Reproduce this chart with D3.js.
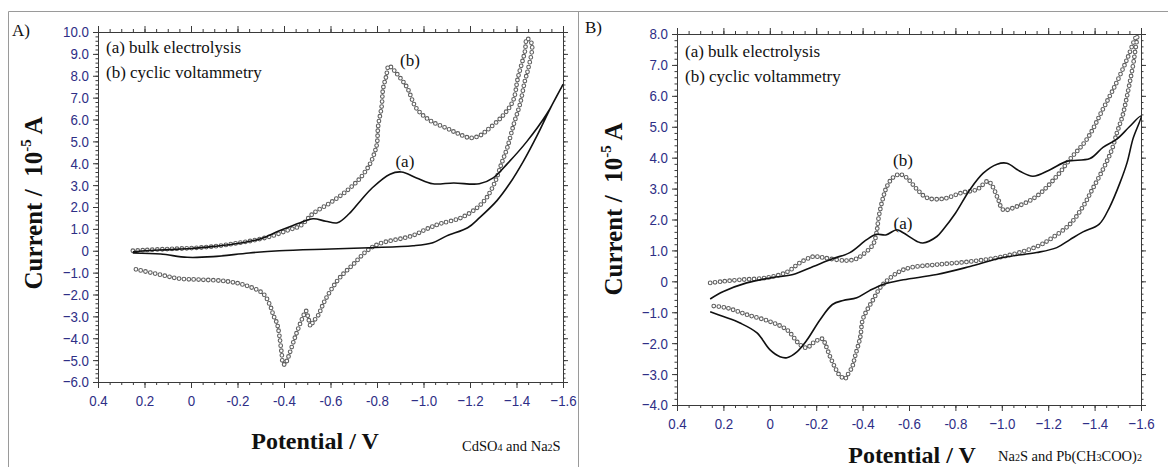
<!DOCTYPE html>
<html>
<head>
<meta charset="utf-8">
<script src="https://cdn.jsdelivr.net/npm/d3@7"></script>
<style>
  body { margin: 0; background: #fff; }
  svg { display: block; }
  .tick text { font-family: 'Liberation Sans Narrow', 'Arial Narrow', 'Liberation Sans', sans-serif; font-size: 15.5px; fill: #2e2e86; }
  .axis path, .axis line { stroke: #3a3a3a; }
  .serif { font-family: 'Liberation Serif', 'Times New Roman', serif; fill: #111; }
</style>
</head>
<body>
<svg width="1168" height="467"></svg>
<script>
// tick labels
const xTicks = [0.4, 0.2, 0, -0.2, -0.4, -0.6, -0.8, -1.0, -1.2, -1.4, -1.6];
const yTicksA = [10, 9, 8, 7, 6, 5, 4, 3, 2, 1, 0, -1, -2, -3, -4, -5, -6];
const yTicksB = [8, 7, 6, 5, 4, 3, 2, 1, 0, -1, -2, -3, -4];

// panel A, (b) cyclic voltammetry
const cvA_pot = [0.25, 0.2, 0.1, 0.0, -0.1, -0.2, -0.28, -0.35, -0.42, -0.47, -0.525, -0.6, -0.67, -0.73, -0.77, -0.79, -0.8, -0.805, -0.82, -0.826, -0.84, -0.85, -0.86, -0.877, -0.9, -0.93, -0.97, -1.03, -1.1, -1.15, -1.2, -1.24, -1.27, -1.34, -1.385, -1.406, -1.436, -1.445, -1.466,
  -1.45, -1.436, -1.415, -1.39, -1.36, -1.335, -1.31, -1.27, -1.23, -1.16, -1.07, -1.015, -0.95, -0.81, -0.757, -0.7, -0.64, -0.6, -0.57, -0.546, -0.525, -0.515, -0.505, -0.495, -0.48, -0.447, -0.417, -0.404, -0.396, -0.39, -0.38, -0.37, -0.355, -0.34, -0.31, -0.24, -0.155, -0.04, 0.047, 0.13, 0.25];
const cvA_cur = [0.0, 0.03, 0.08, 0.12, 0.2, 0.35, 0.5, 0.68, 0.95, 1.14, 1.7, 2.2, 2.74, 3.35, 3.97, 4.5, 4.9, 5.7, 6.6, 7.4, 7.99, 8.45, 8.4, 8.2, 7.9, 7.45, 6.5, 5.94, 5.6, 5.35, 5.16, 5.25, 5.48, 6.16, 6.85, 7.9, 9.1, 9.7, 9.45,
  8.3, 7.76, 6.7, 5.85, 4.7, 3.97, 3.2, 2.4, 1.96, 1.5, 1.23, 1.0, 0.68, 0.32, 0.0, -0.6, -1.23, -1.83, -2.4, -2.97, -3.25, -3.45, -3.1, -2.75, -3.06, -3.97, -4.9, -5.2, -5.16, -4.7, -3.88, -3.33, -2.97, -2.5, -1.96, -1.6, -1.4, -1.32, -1.28, -1.1, -0.82];

// panel A, (a) bulk electrolysis
const beA_pot = [0.25, 0.2, 0.1, 0.0, -0.1, -0.2, -0.3, -0.38, -0.47, -0.525, -0.58, -0.63, -0.68, -0.73, -0.78, -0.856, -0.905, -0.97, -1.04, -1.13, -1.24, -1.3, -1.36, -1.445, -1.53, -1.6,
  -1.545, -1.49, -1.43, -1.37, -1.315, -1.24, -1.19, -1.1, -1.04, -0.955, -0.77, -0.6, -0.38, -0.25, -0.095, 0.017, 0.13, 0.25];
const beA_cur = [-0.05, 0.0, 0.05, 0.1, 0.2, 0.33, 0.55, 0.91, 1.28, 1.46, 1.35, 1.28, 1.69, 2.3, 2.88, 3.5, 3.6, 3.33, 3.06, 3.1, 3.06, 3.33, 3.97, 5.0, 6.25, 7.6,
  6.5, 5.3, 4.1, 3.06, 2.28, 1.5, 1.05, 0.68, 0.37, 0.23, 0.14, 0.08, 0.0, -0.1, -0.27, -0.3, -0.15, -0.1];

// panel B, (b) cyclic voltammetry
const cvB_pot = [0.257, 0.2, 0.128, 0.01, -0.074, -0.13, -0.187, -0.22, -0.26, -0.33, -0.37, -0.4, -0.445, -0.46, -0.47, -0.49, -0.505, -0.53, -0.56, -0.59, -0.635, -0.678, -0.747, -0.83, -0.893, -0.94, -0.96, -0.985, -1.005, -1.065, -1.15, -1.237, -1.294, -1.367, -1.436, -1.496, -1.54, -1.574, -1.583,
  -1.574, -1.565, -1.54, -1.52, -1.496, -1.475, -1.436, -1.39, -1.35, -1.294, -1.22, -1.15, -1.005, -0.863, -0.72, -0.604, -0.55, -0.488, -0.47, -0.445, -0.42, -0.4, -0.39, -0.367, -0.355, -0.33, -0.325, -0.3, -0.28, -0.26, -0.24, -0.227, -0.187, -0.16, -0.13, -0.074, 0.0, 0.098, 0.185, 0.257];
const cvB_cur = [-0.05, 0.0, 0.05, 0.12, 0.3, 0.6, 0.8, 0.78, 0.73, 0.67, 0.72, 0.86, 1.19, 1.57, 2.1, 2.75, 3.07, 3.35, 3.46, 3.35, 2.97, 2.7, 2.67, 2.87, 2.97, 3.24, 3.07, 2.64, 2.32, 2.42, 2.75, 3.4, 3.95, 4.6, 5.57, 6.45, 7.19, 7.84, 7.95,
  7.4, 6.96, 6.0, 5.34, 4.8, 4.27, 3.62, 2.97, 2.42, 1.85, 1.42, 1.12, 0.8, 0.64, 0.54, 0.44, 0.28, -0.1, -0.27, -0.6, -0.92, -1.25, -1.8, -2.44, -2.77, -3.09, -3.16, -3.03, -2.77, -2.44, -2.05, -1.86, -1.99, -2.15, -2.05, -1.57, -1.3, -1.08, -0.86, -0.79];

// panel B, (a) bulk electrolysis
const beB_pot = [0.257, 0.2, 0.1, -0.01, -0.1, -0.187, -0.27, -0.345, -0.418, -0.46, -0.5, -0.548, -0.575, -0.635, -0.66, -0.72, -0.75, -0.8, -0.863, -0.92, -0.98, -1.022, -1.078, -1.134, -1.21, -1.28, -1.38, -1.436, -1.496, -1.55, -1.6,
  -1.565, -1.54, -1.51, -1.466, -1.42, -1.35, -1.294, -1.237, -1.15, -1.005, -0.863, -0.72, -0.575, -0.488, -0.43, -0.375, -0.316, -0.27, -0.216, -0.16, -0.117, -0.074, -0.044, 0.0, 0.055, 0.128, 0.2, 0.257];
const beB_cur = [-0.57, -0.33, -0.05, 0.12, 0.22, 0.48, 0.73, 0.93, 1.35, 1.52, 1.5, 1.67, 1.57, 1.29, 1.24, 1.45, 1.7, 2.2, 2.97, 3.5, 3.79, 3.82, 3.56, 3.4, 3.62, 3.88, 3.97, 4.33, 4.6, 5.0, 5.35,
  4.6, 3.84, 3.2, 2.42, 1.85, 1.6, 1.35, 1.09, 0.93, 0.77, 0.48, 0.22, 0.05, -0.1, -0.3, -0.53, -0.62, -0.75, -1.25, -1.9, -2.28, -2.47, -2.44, -2.21, -1.67, -1.35, -1.14, -0.98];

const svg = d3.select("svg");

// panel frames
svg.append("path")
  .attr("d", "M8.5,467 V11.5 H1168 M578.5,11.5 V467")
  .attr("fill", "none").attr("stroke", "#9a9a9a").attr("stroke-width", 1);

function pair(px, py) { return px.map((p, i) => [p, py[i]]); }

function drawPanel(cfg) {
  const x = d3.scaleLinear().domain([0.4, -1.6]).range([cfg.left, cfg.right]);
  const y = d3.scaleLinear().domain(cfg.yDomain).range([cfg.bottom, cfg.top]);
  const g = svg.append("g");

  const xMinor = d3.range(0, 41).map(i => 0.4 - i * 0.05);
  const yMinor = d3.range(0, Math.round((cfg.yDomain[1] - cfg.yDomain[0]) / 0.2) + 1).map(i => cfg.yDomain[0] + i * 0.2);

  const fmtY = d => d === 0 ? "0" : d3.format(".1f")(d);
  const fmtX = d => d === 0 ? "0" : (Math.abs(d) >= 1 ? d3.format(".1f")(d) : String(+d.toFixed(1)));

  // minor ticks
  g.append("g").attr("class", "axis").attr("transform", `translate(0,${cfg.bottom})`)
    .call(d3.axisBottom(x).tickValues(xMinor).tickSize(3).tickSizeOuter(0).tickFormat(""));
  g.append("g").attr("class", "axis").attr("transform", `translate(0,${cfg.top})`)
    .call(d3.axisTop(x).tickValues(xMinor).tickSize(3).tickSizeOuter(0).tickFormat(""));
  g.append("g").attr("class", "axis").attr("transform", `translate(${cfg.left},0)`)
    .call(d3.axisLeft(y).tickValues(yMinor).tickSize(2.5).tickSizeOuter(0).tickFormat(""));
  g.append("g").attr("class", "axis").attr("transform", `translate(${cfg.right},0)`)
    .call(d3.axisRight(y).tickValues(yMinor).tickSize(2.5).tickSizeOuter(0).tickFormat(""));

  // major ticks
  g.append("g").attr("class", "axis").attr("transform", `translate(0,${cfg.bottom})`)
    .call(d3.axisBottom(x).tickValues(xTicks).tickSize(6).tickSizeOuter(0).tickPadding(7).tickFormat(fmtX))
    .selectAll(".tick text").attr("transform", "scale(0.86,1)");
  g.append("g").attr("class", "axis").attr("transform", `translate(0,${cfg.top})`)
    .call(d3.axisTop(x).tickValues(xTicks).tickSize(6).tickSizeOuter(0).tickFormat(""));
  g.append("g").attr("class", "axis").attr("transform", `translate(${cfg.left},0)`)
    .call(d3.axisLeft(y).tickValues(cfg.yTicks).tickSize(5).tickSizeOuter(0).tickPadding(5.5).tickFormat(fmtY))
    .selectAll(".tick text").attr("transform", "scale(0.86,1)");
  g.append("g").attr("class", "axis").attr("transform", `translate(${cfg.right},0)`)
    .call(d3.axisRight(y).tickValues(cfg.yTicks).tickSize(5).tickSizeOuter(0).tickFormat(""));

  const line = d3.line().x(d => x(d[0])).y(d => y(d[1])).curve(d3.curveCatmullRom.alpha(0.5));

  // cyclic voltammetry: hollow circle markers
  const cv = pair(cfg.cvPot, cfg.cvCur);
  g.append("path").datum(cv).attr("d", line)
    .attr("fill", "none").attr("stroke", "#606060").attr("stroke-width", 4.8)
    .attr("stroke-linecap", "round").attr("stroke-dasharray", "0 4.9");
  g.append("path").datum(cv).attr("d", line)
    .attr("fill", "none").attr("stroke", "#fff").attr("stroke-width", 2.6)
    .attr("stroke-linecap", "round").attr("stroke-dasharray", "0 4.9");

  // bulk electrolysis: solid line
  g.append("path").datum(pair(cfg.bePot, cfg.beCur)).attr("d", line)
    .attr("fill", "none").attr("stroke", "#111").attr("stroke-width", 1.6);

  // text
  const t = (px, py, str, size) => g.append("text").attr("class", "serif")
    .attr("x", px).attr("y", py).attr("font-size", size).text(str);
  t(cfg.tagX, cfg.tagY, cfg.tag, 17);
  t(cfg.legX, cfg.legY, "(a) bulk electrolysis", 17);
  t(cfg.legX, cfg.legY + 25, "(b) cyclic voltammetry", 17);
  t(x(cfg.labB[0]), y(cfg.labB[1]), "(b)", 17).attr("text-anchor", "middle");
  t(x(cfg.labA[0]), y(cfg.labA[1]), "(a)", 17).attr("text-anchor", "middle");

  // axis titles
  const yt = g.append("text").attr("class", "serif")
    .attr("transform", `translate(${cfg.yTitleX},${cfg.yTitleY}) rotate(-90)`)
    .attr("text-anchor", "middle").attr("font-size", 25).attr("font-weight", "bold")
    .style("white-space", "pre");
  yt.append("tspan").text("Current /  10");
  yt.append("tspan").attr("font-size", 15).attr("dy", -11).text("-5");
  yt.append("tspan").attr("dy", 11).text(" A");

  g.append("text").attr("class", "serif")
    .attr("x", cfg.xTitleX).attr("y", cfg.xTitleY).attr("text-anchor", "middle")
    .attr("font-size", 24).attr("font-weight", "bold").text("Potential / V");

  const note = g.append("text").attr("class", "serif")
    .attr("x", cfg.noteX).attr("y", cfg.noteY).attr("font-size", 14.5);
  cfg.note.forEach(([s, sub]) => {
    note.append("tspan").attr("font-size", sub ? 10 : 14.5).text(s);
  });
}

drawPanel({
  left: 98, right: 563, top: 32, bottom: 382, yDomain: [-6, 10], yTicks: yTicksA,
  cvPot: cvA_pot, cvCur: cvA_cur, bePot: beA_pot, beCur: beA_cur,
  tag: "A)", tagX: 12, tagY: 36, legX: 106, legY: 53,
  labB: [-0.942, 8.45], labA: [-0.92, 3.83],
  yTitleX: 42, yTitleY: 203, xTitleX: 315, xTitleY: 449,
  note: [["CdSO", 0], ["4", 1], [" and Na", 0], ["2", 1], ["S", 0]], noteX: 462, noteY: 451
});

drawPanel({
  left: 677, right: 1141, top: 34, bottom: 405, yDomain: [-4, 8], yTicks: yTicksB,
  cvPot: cvB_pot, cvCur: cvB_cur, bePot: beB_pot, beCur: beB_cur,
  tag: "B)", tagX: 585, tagY: 33, legX: 685, legY: 57,
  labB: [-0.574, 3.72], labA: [-0.574, 1.7],
  yTitleX: 622, yTitleY: 209, xTitleX: 912, xTitleY: 463,
  note: [["Na", 0], ["2", 1], ["S and Pb(CH", 0], ["3", 1], ["COO)", 0], ["2", 1]], noteX: 998, noteY: 461
});
</script>
</body>
</html>
